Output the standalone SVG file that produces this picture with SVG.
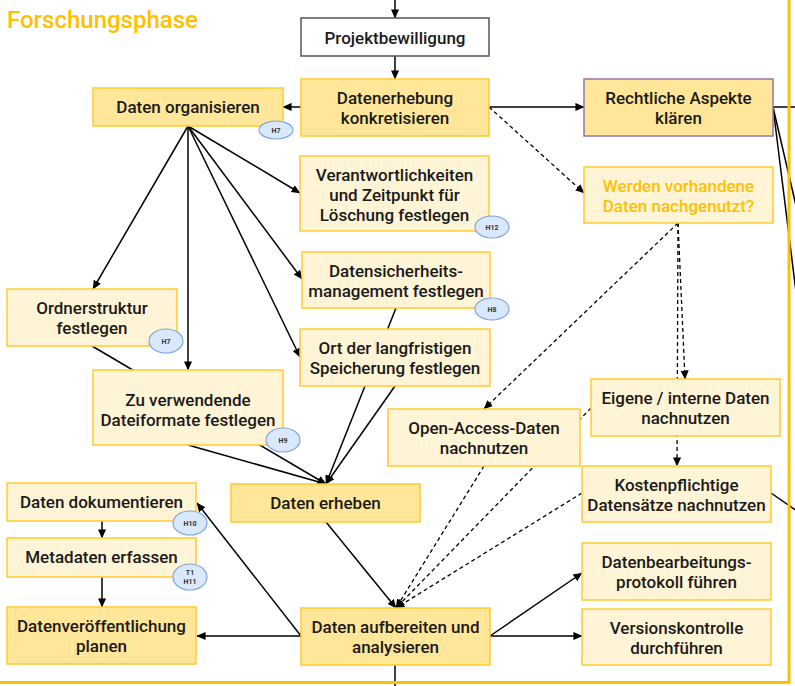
<svg xmlns="http://www.w3.org/2000/svg" width="795" height="686" viewBox="0 0 795 686">
<defs>
<marker id="ah" viewBox="0 0 10 10" markerWidth="9" markerHeight="9" markerUnits="userSpaceOnUse" refX="9.5" refY="5" orient="auto">
<path d="M0,0.5 L10,5 L0,9.5 z" fill="#000"/>
</marker>
<style>
text{font-family:Roboto,"Liberation Sans",sans-serif;font-weight:500;font-size:17px;fill:#1a1a1a;text-anchor:middle}
.title{font-size:24px;fill:#FFC000;text-anchor:start;font-weight:500}
.lt{fill:#FFF4D6;stroke:#FFCB2E;stroke-width:1.5}
.dk{fill:#FFE699;stroke:#FFCB2E;stroke-width:1.5}
.wh{fill:#fff;stroke:#555;stroke-width:1.5}
.pu{fill:#FFE699;stroke:#9673A6;stroke-width:1.5}
.tag{fill:#DAE8FC;stroke:#7EA6E0;stroke-width:1.2}
.tt{font-size:7px;font-weight:700;fill:#333}
.or{fill:#FFC000}
.c line{stroke:#000;stroke-width:1.5;fill:none}
.c .a{marker-end:url(#ah)}
.c .d{stroke-dasharray:4 3;stroke-width:1.3}
.frame{stroke:#FFC000;stroke-width:3;fill:none}
</style>
</defs>
<rect x="0" y="0" width="795" height="686" fill="#fff"/>
<text class="title" x="7" y="28">Forschungsphase</text>
<g class="c" id="connectors">
<line class="a" x1="395" y1="0" x2="395" y2="18"/>
<line class="a" x1="395" y1="56" x2="395" y2="79"/>
<line class="a" x1="301" y1="107" x2="283" y2="107"/>
<line class="a" x1="489" y1="107" x2="584" y2="107"/>
<line x1="773" y1="107" x2="795" y2="107"/>
<line x1="773" y1="107" x2="797" y2="210"/>
<line x1="773" y1="107" x2="797" y2="300"/>
<line x1="771" y1="493" x2="797" y2="511"/>
<line class="a" x1="188" y1="126" x2="300" y2="193"/>
<line class="a" x1="188" y1="126" x2="302" y2="279"/>
<line class="a" x1="188" y1="126" x2="300" y2="357"/>
<line class="a" x1="188" y1="126" x2="93" y2="289"/>
<line class="a" x1="188" y1="126" x2="188" y2="370"/>
<line class="a" x1="92" y1="346" x2="326" y2="484"/>
<line class="a" x1="188" y1="445" x2="326" y2="484"/>
<line class="a" x1="396" y1="308" x2="326" y2="484"/>
<line class="a" x1="395" y1="386" x2="326" y2="484"/>
<line class="a" x1="326" y1="522" x2="396" y2="608"/>
<line class="a" x1="102" y1="521" x2="102" y2="538"/>
<line class="a" x1="102" y1="577" x2="102" y2="607"/>
<line class="a" x1="301" y1="636" x2="197" y2="636"/>
<line class="a" x1="301" y1="636" x2="197" y2="503"/>
<line class="a" x1="490" y1="636" x2="582" y2="573"/>
<line class="a" x1="490" y1="636" x2="582" y2="636"/>
<line x1="395" y1="665" x2="395" y2="686"/>
<line class="a d" x1="489" y1="107" x2="584" y2="193"/>
<line class="a d" x1="678" y1="223" x2="484" y2="409"/>
<line class="a d" x1="678" y1="223" x2="685" y2="379"/>
<line class="a d" x1="678" y1="223" x2="677" y2="466"/>
<line class="a d" x1="484" y1="466" x2="396" y2="608"/>
<line class="a d" x1="591" y1="408" x2="396" y2="608"/>
<line class="a d" x1="582" y1="493" x2="396" y2="608"/>
</g>
<g id="n-projekt"><rect class="wh" x="301" y="18" width="188" height="38"/><text x="395" y="44">Projektbewilligung</text></g>
<g id="n-erhebung-konkret"><rect class="dk" x="301" y="79" width="188" height="57"/><text x="395" y="104">Datenerhebung</text><text x="395" y="124">konkretisieren</text></g>
<g id="n-organisieren"><rect class="dk" x="93" y="88" width="190" height="38"/><text x="188" y="113">Daten organisieren</text>
<ellipse class="tag" cx="276" cy="130" rx="17" ry="9"/><text class="tt" x="276" y="132.5">H7</text></g>
<g id="n-rechtlich"><rect class="pu" x="584" y="79" width="189" height="57"/><text x="678.5" y="104">Rechtliche Aspekte</text><text x="678.5" y="124">klären</text></g>
<g id="n-werden"><rect class="lt" x="584" y="167" width="189" height="56"/><text class="or" x="678.5" y="192">Werden vorhandene</text><text class="or" x="678.5" y="212">Daten nachgenutzt?</text></g>
<g id="n-verantwortlich"><rect class="lt" x="300" y="156" width="189" height="75"/><text x="394.5" y="181">Verantwortlichkeiten</text><text x="394.5" y="201">und Zeitpunkt für</text><text x="394.5" y="221">Löschung festlegen</text>
<ellipse class="tag" cx="492" cy="227" rx="17" ry="11"/><text class="tt" x="492" y="229.5">H12</text></g>
<g id="n-sicherheit"><rect class="lt" x="302" y="252" width="188" height="56"/><text x="396" y="277">Datensicherheits-</text><text x="396" y="297">management festlegen</text>
<ellipse class="tag" cx="492" cy="309" rx="17" ry="11"/><text class="tt" x="492" y="311.5">H8</text></g>
<g id="n-ort"><rect class="lt" x="300" y="329" width="190" height="57"/><text x="395" y="354">Ort der langfristigen</text><text x="395" y="374">Speicherung festlegen</text></g>
<g id="n-ordner"><rect class="lt" x="7" y="289" width="170" height="57"/><text x="92" y="314">Ordnerstruktur</text><text x="92" y="334">festlegen</text>
<ellipse class="tag" cx="166" cy="341" rx="17" ry="12"/><text class="tt" x="166" y="343.5">H7</text></g>
<g id="n-formate"><rect class="lt" x="93" y="370" width="190" height="75"/><text x="188" y="406">Zu verwendende</text><text x="188" y="426">Dateiformate festlegen</text>
<ellipse class="tag" cx="283" cy="440" rx="17" ry="12"/><text class="tt" x="283" y="442.5">H9</text></g>
<g id="n-erheben"><rect class="dk" x="231" y="484" width="189" height="38"/><text x="325.5" y="509">Daten erheben</text></g>
<g id="n-openaccess"><rect class="lt" x="388" y="409" width="192" height="57"/><text x="484" y="434">Open-Access-Daten</text><text x="484" y="454">nachnutzen</text></g>
<g id="n-eigene"><rect class="lt" x="591" y="379" width="189" height="57"/><text x="685.5" y="404">Eigene / interne Daten</text><text x="685.5" y="424">nachnutzen</text></g>
<g id="n-kosten"><rect class="lt" x="582" y="466" width="189" height="56"/><text x="676.5" y="491">Kostenpflichtige</text><text x="676.5" y="511">Datensätze nachnutzen</text></g>
<g id="n-aufbereiten"><rect class="dk" x="301" y="608" width="189" height="57"/><text x="395.5" y="633">Daten aufbereiten und</text><text x="395.5" y="653">analysieren</text></g>
<g id="n-dokumentieren"><rect class="lt" x="7" y="483" width="189" height="38"/><text x="101.5" y="508">Daten dokumentieren</text>
<ellipse class="tag" cx="190" cy="523" rx="17" ry="12"/><text class="tt" x="190" y="525.5">H10</text></g>
<g id="n-metadaten"><rect class="lt" x="7" y="538" width="189" height="39"/><text x="101.5" y="563">Metadaten erfassen</text>
<ellipse class="tag" cx="190" cy="577" rx="17" ry="13"/><text class="tt" x="190" y="574.5">T1</text><text class="tt" x="190" y="583.5">H11</text></g>
<g id="n-veroeffentlichung"><rect class="dk" x="7" y="607" width="189" height="57"/><text x="101.5" y="632">Datenveröffentlichung</text><text x="101.5" y="652">planen</text></g>
<g id="n-protokoll"><rect class="lt" x="582" y="543" width="189" height="57"/><text x="676.5" y="568">Datenbearbeitungs-</text><text x="676.5" y="588">protokoll führen</text></g>
<g id="n-version"><rect class="lt" x="582" y="609" width="189" height="56"/><text x="676.5" y="634">Versionskontrolle</text><text x="676.5" y="654">durchführen</text></g>
<path class="frame" d="M789,0 V682.5 H0"/>
</svg>
